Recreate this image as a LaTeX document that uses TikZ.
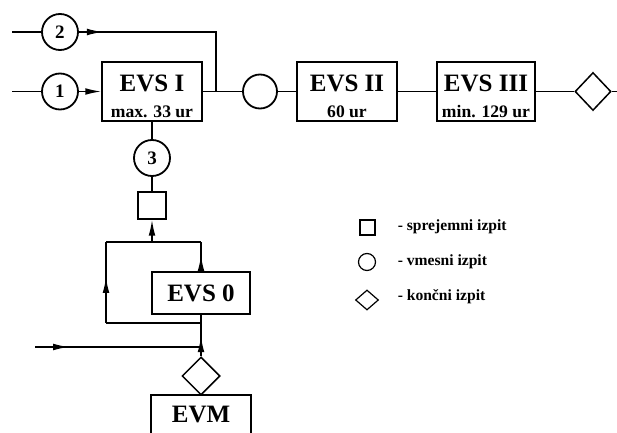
\documentclass[tikz,border=0pt]{standalone}
\usepackage{fontspec}
\setmainfont{Liberation Serif}
\usetikzlibrary{arrows.meta,shapes.geometric,decorations.markings}
\begin{document}
\begin{tikzpicture}[x=0.5pt,y=-0.5pt,
  line width=0.75pt,
  >={Latex[length=8pt,width=3.4pt]},
  box/.style={draw, rectangle, minimum width=50pt, minimum height=29.5pt, inner sep=0pt, align=center},
  big/.style={font=\bfseries\fontsize{12.5}{14}\selectfont},
  exam/.style={draw, circle, minimum size=18pt, inner sep=0pt, line width=0.9pt, font=\bfseries\fontsize{9.5}{10}\selectfont},
  final/.style={draw, diamond, minimum width=19pt, minimum height=19pt, inner sep=0pt},
  entry/.style={draw, rectangle, minimum width=14pt, minimum height=13.5pt, inner sep=0pt},
  midarr/.style={postaction={decorate}, decoration={markings, mark=at position #1 with {\arrow{>}}}},
  legtext/.style={anchor=west, inner sep=0pt, font=\bfseries\fontsize{7.8}{10}\selectfont}
]
\useasboundingbox (0,0) rectangle (617,433);
\clip (0,0) rectangle (617,433);
\newcommand{\sub}[1]{\\[-1pt]{\fontsize{8.8}{10}\selectfont #1}}
\newcommand{\tallstrut}{\rule{0pt}{13.5pt}}
% main row
\node[exam] (c2) at (60,32) {2};
\node[exam] (c1) at (60,91.5) {1};
\node[box,big] (evs1) at (152,91.5) {\tallstrut EVS I\sub{max. 33 ur}};
\node[exam, minimum size=17pt] (cm) at (260,91.5) {};
\node[box,big] (evs2) at (347,91.5) {\tallstrut EVS II\sub{60 ur}};
\node[box,big, minimum width=49pt] (evs3) at (486,91.5) {\tallstrut EVS III\sub{min. 129 ur}};
\node[final, minimum width=18pt] (d1) at (593,91.5) {};
% column
\node[exam] (c3) at (152,158) {3};
\node[entry] (sq) at (152,205.5) {};
\node[box,big, minimum width=49pt, minimum height=21pt] (evs0) at (201,293) {EVS 0};
\node[final] (d2) at (201,376) {};
\node[box,big, minimum height=40pt] (evm) at (201,435) {};
\node[big, anchor=center] (evmt) at (201,415) {EVM};
% coordinates
\coordinate (in1) at (12,91.5);
\coordinate (in2) at (12,32);
\coordinate (t2) at (216,32);
\coordinate (j1) at (216,91.5);
\coordinate (out1) at (620,91.5);
\coordinate (jt) at (152,242);
\coordinate (jl) at (106,242);
\coordinate (jr) at (201,242);
\coordinate (bl) at (106,323);
\coordinate (br) at (201,323);
\coordinate (in3) at (35,347);
\coordinate (jb) at (201,347);
% connectors
\draw (in1) -- (c1);
\draw[->] (c1) -- (evs1);
\draw (in2) -- (c2);
\draw[midarr=12pt] (c2) -- (t2) -- (j1);
\draw (evs1) -- (cm);
\draw (cm) -- (evs2);
\draw (evs2) -- (evs3);
\draw (evs3) -- (d1);
\draw (d1) -- (out1);
\draw (evs1) -- (c3);
\draw (c3) -- (sq);
\draw[->] (jt) -- (sq);
\draw (jl) -- (jr);
\draw[midarr=8pt] (evs0) -- (jr);
\draw[midarr=23pt] (bl) -- (jl);
\draw (bl) -- (br);
\draw[midarr=10pt] (d2) -- (evs0);
\draw[midarr=17pt] (in3) -- (jb);
% legend
\node[entry, minimum width=7.5pt, minimum height=7.5pt, line width=0.6pt] (lsq) at (367.5,227.5) {};
\node[draw, circle, minimum size=8.5pt, inner sep=0pt, line width=0.6pt] (lci) at (367,262) {};
\node[final, minimum width=11.5pt, minimum height=10pt, line width=0.6pt] (ldi) at (367,300) {};
\node[legtext] (t1) at (397,227) {- sprejemni izpit};
\node[legtext] (t2l) at (397,262) {- vmesni izpit};
\node[legtext] (t3) at (397,297) {- končni izpit};
\end{tikzpicture}
\end{document}
